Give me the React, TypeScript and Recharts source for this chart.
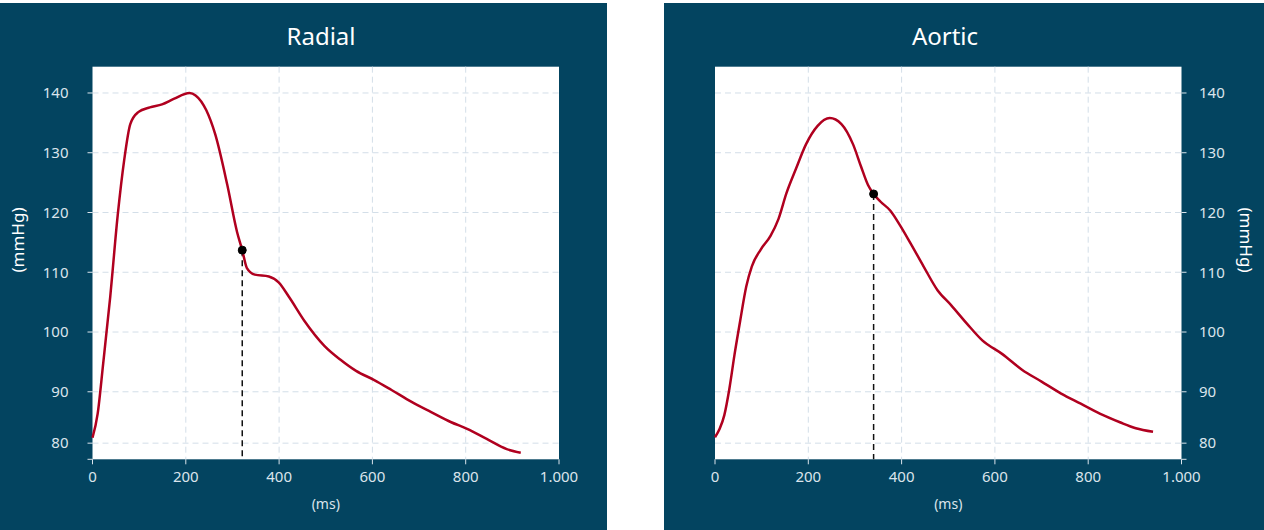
import React from "react";
import {
  LineChart,
  Line,
  XAxis,
  YAxis,
  CartesianGrid,
  ReferenceLine,
  ReferenceDot,
} from "recharts";

// ---- Data ----
const radialTimeMs = [0, 11, 23, 38, 54, 68, 81, 98, 123, 149, 174, 208, 221, 244, 263, 289, 310, 321, 331, 348, 378, 399, 421, 454, 497, 531, 565, 603, 641, 684, 726, 769, 803, 845, 888, 918];
const radialPressure = [82.3, 86.3, 94.8, 105.9, 119.5, 128.8, 134.8, 136.8, 137.6, 138.1, 139.0, 140.0, 139.6, 137.1, 133.1, 124.6, 116.7, 113.7, 110.7, 109.6, 109.3, 108.3, 105.9, 101.9, 97.7, 95.4, 93.5, 92.0, 90.3, 88.3, 86.6, 84.9, 83.8, 82.1, 80.4, 79.8];

const aorticTimeMs = [0, 10, 20, 31, 42, 54, 67, 79, 98, 119, 136, 153, 174, 195, 220, 246, 271, 296, 313, 328, 340, 355, 376, 397, 418, 447, 477, 506, 540, 573, 616, 658, 700, 742, 784, 826, 868, 902, 939];
const aorticPressure = [82.4, 83.8, 86.1, 90.6, 96.3, 101.9, 107.6, 111.0, 113.8, 116.1, 118.9, 123.2, 127.4, 131.4, 134.5, 135.8, 134.8, 131.4, 127.7, 124.6, 123.1, 121.8, 120.3, 117.8, 115.0, 111.0, 107.0, 104.5, 101.4, 98.6, 96.3, 93.7, 91.7, 89.7, 88.0, 86.3, 84.9, 83.9, 83.3];

const radialNotch = { t: 321, p: 113.7 };
const aorticNotch = { t: 340, p: 123.1 };

const xTicks = [0, 200, 400, 600, 800, 1000];
const yDomain: [number, number] = [78.7, 144.4];
const yTickValues = [78.7, 81.4, 90, 100, 110, 120, 130, 140];
const yTickLabels = ["", "80", "90", "100", "110", "120", "130", "140"];
const gridYValues = [81.4, 90, 100, 110, 120, 130, 140];
const gridXValues = [200, 400, 600, 800];

const radialData = radialTimeMs.map((t, i) => ({ t, p: radialPressure[i] }));
const aorticData = aorticTimeMs.map((t, i) => ({ t, p: aorticPressure[i] }));

// ---- Styles ----
const BG = "#034460";
const LINE = "#b0001f";
const TXT = "#dbe4ec";
const FONT = "'Noto Sans', 'Open Sans', sans-serif";

const fmtX = (v: number) => (v === 1000 ? "1.000" : String(v));
const fmtY = (v: number) => {
  const i = yTickValues.indexOf(v);
  return i >= 0 ? yTickLabels[i] : String(v);
};

const tickStyle = { fill: TXT, fontSize: 15, fontFamily: FONT };

function Panel(props: {
  left: number;
  width: number;
  title: string;
  titleX: number;
  data: { t: number; p: number }[];
  notch: { t: number; p: number };
  side: "left" | "right";
}) {
  const { left, width, title, titleX, data, notch, side } = props;
  const isLeft = side === "left";
  const margin = isLeft
    ? { top: 63.7, right: 48, bottom: 40.7, left: 0 }
    : { top: 63.7, right: 0, bottom: 40.7, left: 51 };
  const plotX0 = isLeft ? 92.5 : 51;
  const plotX1 = isLeft ? 559 : 517.5;
  return (
    <div
      style={{
        position: "absolute",
        left,
        top: 3,
        width,
        height: 527,
        background: BG,
        fontFamily: FONT,
      }}
    >
      <div
        style={{
          position: "absolute",
          left: titleX - 100,
          width: 200,
          top: 21,
          textAlign: "center",
          color: "#ffffff",
          fontSize: 24,
          lineHeight: "24px",
        }}
      >
        {title}
      </div>
      <div
        style={{
          position: "absolute",
          left: (plotX0 + plotX1) / 2 - 50,
          width: 100,
          top: 493,
          textAlign: "center",
          color: TXT,
          fontSize: 14,
          lineHeight: "16px",
        }}
      >
        (ms)
      </div>
      <div
        style={{
          position: "absolute",
          left: isLeft ? 18 - 50 : 582 - 50,
          width: 100,
          top: 236.5 - 12,
          height: 24,
          lineHeight: "24px",
          textAlign: "center",
          color: "#ffffff",
          fontSize: 17,
          transform: isLeft ? "rotate(-90deg)" : "rotate(90deg)",
        }}
      >
        (mmHg)
      </div>
      <LineChart width={width} height={527} data={data} margin={margin}>
        <CartesianGrid
          fill="#ffffff"
          stroke="#d3dee8"
          strokeDasharray="6 4"
          horizontalValues={gridYValues}
          verticalValues={gridXValues}
        />
        <XAxis
          dataKey="t"
          type="number"
          domain={[0, 1000]}
          ticks={xTicks}
          tickFormatter={fmtX}
          axisLine={false}
          tickLine={{ stroke: TXT }}
          tickSize={5}
          tickMargin={7}
          tick={tickStyle}
          height={30}
          interval={0}
        />
        <YAxis
          type="number"
          orientation={isLeft ? "left" : "right"}
          domain={yDomain}
          ticks={yTickValues}
          tickFormatter={fmtY}
          axisLine={false}
          tickLine={{ stroke: TXT }}
          tickSize={5}
          tickMargin={isLeft ? 19 : 12.5}
          tick={tickStyle}
          width={isLeft ? 92.5 : 82.5}
          interval={0}
          allowDataOverflow
        />
        <ReferenceLine
          segment={[
            { x: notch.t, y: notch.p },
            { x: notch.t, y: yDomain[0] },
          ]}
          stroke="#111"
          strokeWidth={1.5}
          strokeDasharray="6 4"
          ifOverflow="visible"
        />
        <Line
          type="monotone"
          dataKey="p"
          stroke={LINE}
          strokeWidth={2.5}
          dot={false}
          isAnimationActive={false}
        />
        <ReferenceDot
          x={notch.t}
          y={notch.p}
          r={4}
          fill="#000"
          stroke="#000"
          ifOverflow="visible"
        />
      </LineChart>
    </div>
  );
}

export default function App() {
  return (
    <div
      style={{
        position: "absolute",
        left: 0,
        top: 0,
        width: 1264,
        height: 530,
        background: "#ffffff",
      }}
    >
      <Panel
        left={0}
        width={607}
        title="Radial"
        titleX={321}
        data={radialData}
        notch={radialNotch}
        side="left"
      />
      <Panel
        left={664}
        width={600}
        title="Aortic"
        titleX={281}
        data={aorticData}
        notch={aorticNotch}
        side="right"
      />
    </div>
  );
}
